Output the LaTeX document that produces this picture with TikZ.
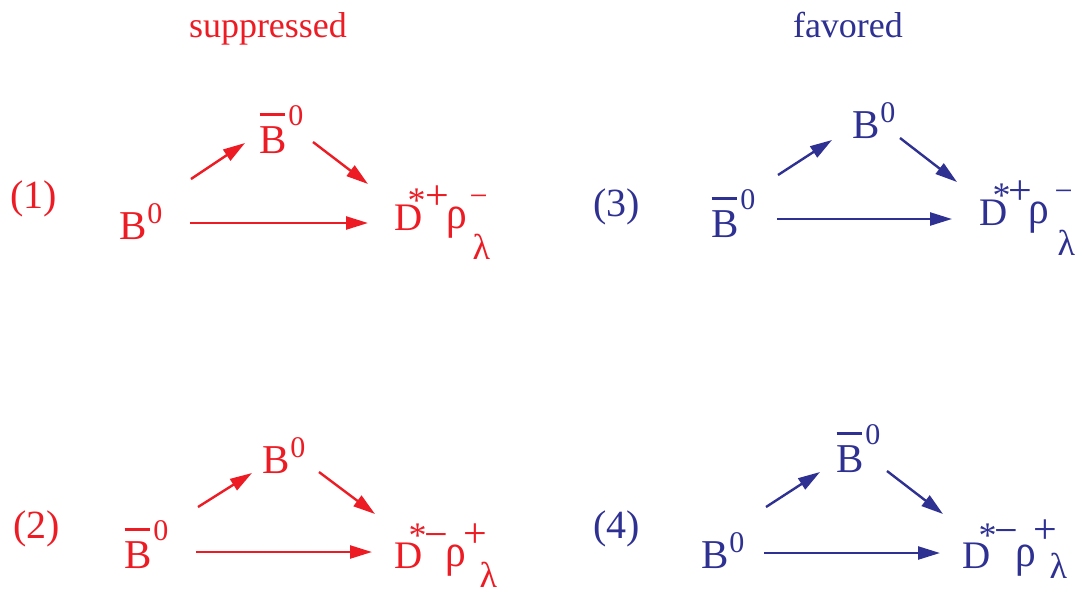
\documentclass[tikz,border=0pt]{standalone}
\usepackage{fontspec}
\setmainfont{Liberation Serif}
\usetikzlibrary{arrows.meta,calc}
\definecolor{rd}{RGB}{237,28,36}
\definecolor{bl}{RGB}{46,49,146}
\newcommand\pc[4]{\rlap{\hspace*{#1}\raisebox{#2}{\fontsize{#3}{#3}\selectfont #4}}}
\newcommand\rh{\scalebox{0.9}[1]{ρ}}
\newcommand\BO{\fontsize{41}{41}\selectfont B\kern1pt\raisebox{16pt}{\fontsize{30}{30}\selectfont 0}}
\newcommand\BbarO{\fontsize{41}{41}\selectfont \rlap{\hspace*{0.5pt}\rule[37pt]{25pt}{3pt}}B\kern2pt\raisebox{28pt}{\fontsize{30}{30}\selectfont 0}}
\tikzset{
  lbl/.style={inner sep=0pt, outer sep=0pt, anchor=base west},
  num/.style={lbl, font=\fontsize{40}{40}\selectfont},
  ttl/.style={lbl, font=\fontsize{36}{36}\selectfont},
  arr/.style={line width=2.4pt, -{Triangle[length=22pt,width=13pt]}}
}
\begin{document}
\begin{tikzpicture}[x=1pt,y=-1pt]
\useasboundingbox (0,0) rectangle (1083,592);
% titles
\node[ttl, text=rd] (t1) at (189,37) {suppressed};
\node[ttl, text=bl] (t2) at (793,37) {favored};
% ---------- panel 1 ----------
\begin{scope}[rd]
\node[num, text=rd] (lab1) at (10,208) {(1)};
\node[lbl, text=rd] (b1) at (119,239) {\BO};
\node[lbl, text=rd] (b1t) at (259,153) {\BbarO};
\node[lbl, text=rd] (d1) at (394,230) {\pc{0pt}{0pt}{39}{D}\pc{13pt}{18pt}{36}{*}\pc{31pt}{21pt}{42}{+}\pc{52pt}{2pt}{46}{\rh}\pc{75pt}{24pt}{32}{−}\pc{78pt}{-29pt}{36}{λ}};
\draw[arr] ($(b1.base west)+(71,-16)$) -- ($(d1.base west)+(-26,-7)$);
\draw[arr] ($(b1.base west)+(72,-60)$) -- ($(b1t.base west)+(-14,-10)$);
\draw[arr] ($(b1t.base west)+(54,-11)$) -- ($(d1.base west)+(-26,-46)$);
% ---------- panel 2 ----------
\node[num, text=rd] (lab2) at (13,538) {(2)};
\node[lbl, text=rd] (b2) at (124,568) {\BbarO};
\node[lbl, text=rd] (b2t) at (262,473) {\BO};
\node[lbl, text=rd] (d2) at (394,568) {\pc{0pt}{0pt}{39}{D}\pc{14pt}{21pt}{36}{*}\pc{30pt}{20pt}{42}{−}\pc{51pt}{2pt}{46}{\rh}\pc{69pt}{21pt}{42}{+}\pc{85pt}{-19pt}{36}{λ}};
\draw[arr] ($(b2.base west)+(72,-16)$) -- ($(d2.base west)+(-22,-16)$);
\draw[arr] ($(b2.base west)+(74,-61)$) -- ($(b2t.base west)+(-10,0)$);
\draw[arr] ($(b2t.base west)+(57,-1)$) -- ($(d2.base west)+(-19,-54)$);
\end{scope}
% ---------- panel 3 ----------
\begin{scope}[bl]
\node[num, text=bl] (lab3) at (593,216) {(3)};
\node[lbl, text=bl] (b3) at (711,237) {\BbarO};
\node[lbl, text=bl] (b3t) at (852,138) {\BO};
\node[lbl, text=bl] (d3) at (979,225) {\pc{0pt}{0pt}{39}{D}\pc{13pt}{18pt}{36}{*}\pc{29pt}{21pt}{42}{+}\pc{49pt}{2pt}{46}{\rh}\pc{75pt}{24pt}{32}{−}\pc{78pt}{-30pt}{36}{λ}};
\draw[arr] ($(b3.base west)+(66,-18)$) -- ($(d3.base west)+(-27,-6)$);
\draw[arr] ($(b3.base west)+(67,-62)$) -- ($(b3t.base west)+(-20,2)$);
\draw[arr] ($(b3t.base west)+(48,0)$) -- ($(d3.base west)+(-22,-43)$);
% ---------- panel 4 ----------
\node[num, text=bl] (lab4) at (593,538) {(4)};
\node[lbl, text=bl] (b4) at (701,568) {\BO};
\node[lbl, text=bl] (b4t) at (836,472) {\BbarO};
\node[lbl, text=bl] (d4) at (962,568) {\pc{0pt}{0pt}{39}{D}\pc{16pt}{21pt}{36}{*}\pc{32pt}{24pt}{42}{−}\pc{53pt}{2pt}{46}{\rh}\pc{71pt}{25pt}{42}{+}\pc{87pt}{-10pt}{36}{λ}};
\draw[arr] ($(b4.base west)+(63,-15)$) -- ($(d4.base west)+(-22,-15)$);
\draw[arr] ($(b4.base west)+(65,-61)$) -- ($(b4t.base west)+(-16,0)$);
\draw[arr] ($(b4t.base west)+(51,-1)$) -- ($(d4.base west)+(-19,-54)$);
\end{scope}
\end{tikzpicture}
\end{document}
